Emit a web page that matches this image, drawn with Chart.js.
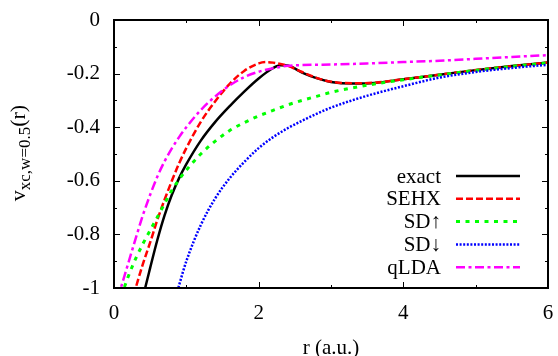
<!DOCTYPE html>
<html>
<head>
<meta charset="utf-8">
<script src="https://cdn.jsdelivr.net/npm/chart.js@4.4.0/dist/chart.umd.min.js"></script>
<style>
	html, body { margin: 0; padding: 0; background: #fff; }
</style>
</head>
<body>
<canvas id="vxcChart" width="558" height="356"></canvas>
<script>
// r in a.u., potential in Hartree
const rExact = [0.3, 0.4, 0.5, 0.6, 0.7, 0.8, 0.9, 1.0, 1.2, 1.4, 1.6, 1.8, 2.0, 2.2, 2.3, 2.4, 2.6, 2.8, 3.0, 3.3, 3.6, 4.0, 4.5, 5.0, 5.5, 6.0];
const vExact = [-1.16, -1.035, -0.925, -0.82, -0.728, -0.652, -0.59, -0.538, -0.45, -0.38, -0.321, -0.267, -0.218, -0.179, -0.169, -0.170, -0.196, -0.217, -0.231, -0.237, -0.235, -0.221, -0.204, -0.187, -0.172, -0.159];

const rSehx = [0.2, 0.3, 0.4, 0.5, 0.6, 0.7, 0.8, 0.9, 1.0, 1.2, 1.4, 1.6, 1.8, 2.0, 2.1, 2.2, 2.4, 2.6, 2.8, 3.0, 3.3, 3.6, 4.0, 4.5, 5.0, 5.5, 6.0];
const vSehx = [-1.1, -1.0, -0.91, -0.83, -0.745, -0.67, -0.6, -0.535, -0.478, -0.38, -0.303, -0.238, -0.19, -0.162, -0.157, -0.159, -0.171, -0.194, -0.216, -0.230, -0.236, -0.234, -0.221, -0.204, -0.187, -0.172, -0.159];

const rSdUp = [0.1, 0.2, 0.3, 0.4, 0.5, 0.6, 0.7, 0.8, 0.9, 1.0, 1.2, 1.4, 1.6, 1.8, 2.0, 2.2, 2.4, 2.6, 2.8, 3.0, 3.3, 3.6, 4.0, 4.5, 5.0, 5.5, 6.0];
const vSdUp = [-1.03, -0.955, -0.89, -0.835, -0.785, -0.735, -0.685, -0.635, -0.595, -0.56, -0.5, -0.452, -0.412, -0.383, -0.358, -0.337, -0.317, -0.3, -0.285, -0.270, -0.253, -0.239, -0.223, -0.205, -0.188, -0.173, -0.16];

const rSdDown = [0.8, 0.9, 1.0, 1.2, 1.4, 1.6, 1.8, 2.0, 2.2, 2.4, 2.6, 2.8, 3.0, 3.3, 3.6, 4.0, 4.5, 5.0, 5.5, 6.0];
const vSdDown = [-1.09, -0.99, -0.9, -0.765, -0.665, -0.59, -0.53, -0.478, -0.437, -0.404, -0.376, -0.35, -0.327, -0.299, -0.275, -0.247, -0.215, -0.194, -0.179, -0.167];

const rQlda = [0.05, 0.1, 0.2, 0.3, 0.4, 0.5, 0.6, 0.7, 0.8, 0.9, 1.0, 1.2, 1.4, 1.6, 1.8, 2.0, 2.2, 2.4, 2.6, 2.8, 3.0, 3.3, 3.6, 4.0, 4.5, 5.0, 5.5, 6.0];
const vQlda = [-1.04, -0.995, -0.905, -0.815, -0.728, -0.652, -0.584, -0.527, -0.479, -0.437, -0.4, -0.336, -0.285, -0.244, -0.213, -0.193, -0.18, -0.171, -0.168, -0.167, -0.166, -0.164, -0.161, -0.157, -0.152, -0.145, -0.138, -0.131];

const xMajorTicks = [0, 2, 4, 6];
const xMinorTicks = [1, 3, 5];
const yMajorTicks = [0, -0.2, -0.4, -0.6, -0.8, -1];
const yMinorTicks = [-0.1, -0.3, -0.5, -0.7, -0.9];

const SERIF = '"Liberation Serif", "DejaVu Serif", serif';

function toPoints(xs, ys) {
	return xs.map((x, i) => ({ x, y: ys[i] }));
}

function curve(label, xs, ys, color, dash, width, order) {
	return {
		label,
		data: toPoints(xs, ys),
		borderColor: color,
		borderWidth: width,
		borderDash: dash,
		borderCapStyle: 'butt',
		pointRadius: 0,
		fill: false,
		cubicInterpolationMode: 'monotone',
		clip: 0,
		order
	};
}

// gnuplot-like frame: inward ticks on all four sides, labels, legend
const framePlugin = {
	id: 'frame',
	afterDatasetsDraw(chart) {
		const { ctx, chartArea: a, scales: { x, y } } = chart;
		ctx.save();
		ctx.setLineDash([]);
		ctx.strokeStyle = '#000';
		ctx.lineWidth = 1;

		const seg = (x1, y1, x2, y2) => {
			ctx.beginPath();
			ctx.moveTo(x1, y1);
			ctx.lineTo(x2, y2);
			ctx.stroke();
		};
		const xTick = (v, len) => {
			const px = Math.round(x.getPixelForValue(v)) + 0.5;
			seg(px, a.bottom, px, a.bottom - len);
			seg(px, a.top, px, a.top + len);
		};
		const yTick = (v, len) => {
			const py = Math.round(y.getPixelForValue(v)) + 0.5;
			seg(a.left, py, a.left + len, py);
			seg(a.right, py, a.right - len, py);
		};
		xMajorTicks.forEach(v => xTick(v, 6));
		xMinorTicks.forEach(v => xTick(v, 3));
		yMajorTicks.forEach(v => yTick(v, 6));
		yMinorTicks.forEach(v => yTick(v, 3));

		ctx.lineWidth = 2;
		ctx.strokeRect(a.left, a.top, a.right - a.left, a.bottom - a.top);

		// tick labels
		ctx.fillStyle = '#000';
		ctx.font = `21px ${SERIF}`;
		ctx.textAlign = 'right';
		ctx.textBaseline = 'middle';
		yMajorTicks.forEach(v => {
			ctx.fillText(v === 0 ? '0' : String(v), a.left - 14, y.getPixelForValue(v));
		});
		ctx.textAlign = 'center';
		xMajorTicks.forEach(v => {
			ctx.fillText(String(v), x.getPixelForValue(v), a.bottom + 25);
		});

		// axis titles
		ctx.textBaseline = 'alphabetic';
		ctx.fillText('r (a.u.)', (a.left + a.right) / 2, 354);

		const mainFont = `22px ${SERIF}`;
		const subFont = `17px ${SERIF}`;
		ctx.font = mainFont;
		const wV = ctx.measureText('v').width;
		const wR = ctx.measureText('(r)').width;
		ctx.font = subFont;
		const wSub = ctx.measureText('xc,w=0.5').width;
		const total = wV + wSub + wR;
		ctx.translate(25, (a.top + a.bottom) / 2 - 1);
		ctx.rotate(-Math.PI / 2);
		ctx.textAlign = 'left';
		let cx = -total / 2;
		ctx.font = mainFont;
		ctx.fillText('v', cx, 0);
		cx += wV;
		ctx.font = subFont;
		ctx.fillText('xc,w=0.5', cx, 5);
		cx += wSub;
		ctx.font = mainFont;
		ctx.fillText('(r)', cx, 0);
		ctx.setTransform(1, 0, 0, 1, 0, 0);

		// legend
		const rowTop = 176;
		const rowStep = 22.8;
		ctx.font = `21px ${SERIF}`;
		ctx.textAlign = 'right';
		ctx.textBaseline = 'middle';
		chart.data.datasets.forEach((ds, i) => {
			const ry = rowTop + i * rowStep;
			ctx.fillStyle = '#000';
			ctx.fillText(ds.label, 441, ry + 1);
			ctx.strokeStyle = ds.borderColor;
			ctx.lineWidth = ds.borderWidth;
			ctx.lineCap = 'butt';
			ctx.setLineDash(ds.borderDash);
			seg(456, ry, 520, ry);
		});
		ctx.restore();
	}
};

new Chart(document.getElementById('vxcChart'), {
	type: 'line',
	data: {
		datasets: [
			curve('exact', rExact, vExact, '#000000', [], 2.5, 5),
			curve('SEHX', rSehx, vSehx, '#ff0000', [7, 3], 2.5, 4),
			curve('SD\u2191', rSdUp, vSdUp, '#00ff00', [4, 5.5], 3, 3),
			curve('SD\u2193', rSdDown, vSdDown, '#0000ff', [2, 1.6], 2.5, 2),
			curve('qLDA', rQlda, vQlda, '#ff00ff', [9, 3.5, 3, 3.5], 2.5, 1)
		]
	},
	options: {
		responsive: false,
		animation: false,
		events: [],
		layout: { padding: { left: 114, top: 20, right: 10, bottom: 68 } },
		scales: {
			x: { type: 'linear', min: 0, max: 6, display: false },
			y: { type: 'linear', min: -1, max: 0, display: false }
		},
		plugins: {
			legend: { display: false },
			tooltip: { enabled: false }
		}
	},
	plugins: [framePlugin]
});
</script>
</body>
</html>
